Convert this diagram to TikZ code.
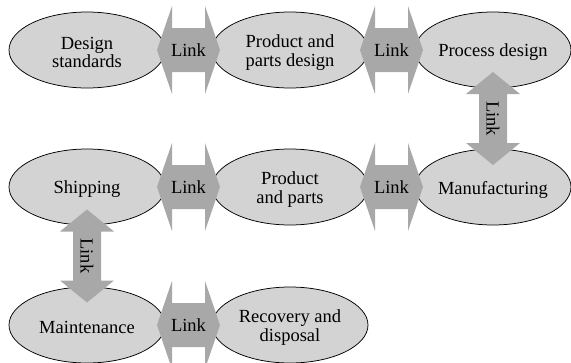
\documentclass[tikz,border=0pt]{standalone}
\usepackage{fontspec}
\setmainfont{Liberation Serif}
\usetikzlibrary{shapes.geometric,calc}
\definecolor{ellfill}{RGB}{211,211,211}
\definecolor{linkfill}{RGB}{168,168,168}
\tikzset{
  stage/.style={ellipse, draw=black, line width=0.75pt, fill=ellfill,
    minimum width=156pt, minimum height=76pt, inner sep=0pt},
  stagelabel/.style={align=center, inner sep=0pt, yshift=-2.5pt,
    font=\fontsize{18.5}{18.5}\selectfont},
  linktext/.style={font=\fontsize{18.5}{19}\selectfont, inner sep=0pt},
  linkshape/.style={fill=linkfill, draw=none},
}
\newcommand{\hlinkarrow}[3]{%
  \coordinate (#1) at ($(#2)!0.5!(#3)$);
  \path[linkshape] ($(#1)+(-31.5,0)$) -- ++(15,-44) -- ++(0,22) -- ++(33,0)
    -- ++(0,-22) -- ++(15,44) -- ++(-15,44) -- ++(0,-22) -- ++(-33,0)
    -- ++(0,22) -- cycle;
  \node[linktext] (#1t) at (#1) {Link};
}
\newcommand{\vlinkarrow}[3]{%
  \coordinate (#1) at ($(#2)!0.5!(#3)$);
  \path[linkshape] ($(#1)+(0,-46.5)$) -- ++(27,22) -- ++(-13,0) -- ++(0,49)
    -- ++(13,0) -- ++(-27,22) -- ++(-27,-22) -- ++(13,0) -- ++(0,-49)
    -- ++(-13,0) -- cycle;
  \node[linktext, rotate=-90] (#1t) at (#1) {Link};
}
\begin{document}
\begin{tikzpicture}[x=1pt, y=-1pt]
  \useasboundingbox (0,0) rectangle (571,362);
  % row 1
  \node[stage, label={[stagelabel]center:{Design\\standards}}] (ds) at (87,50) {};
  \node[stage, label={[stagelabel]center:{Product and\\parts design}}] (ppd) at (290,50) {};
  \node[stage, label={[stagelabel]center:{Process design}}] (pd) at (493,50) {};
  % row 2
  \node[stage, label={[stagelabel]center:{Shipping}}] (sh) at (87,187) {};
  \node[stage, label={[stagelabel]center:{Product\\and parts}}] (pp) at (290,187) {};
  \node[stage, label={[stagelabel]center:{Manufacturing}}] (mf) at (493,187) {};
  % row 3
  \node[stage, label={[stagelabel]center:{Maintenance}}] (mt) at (87,325) {};
  \node[stage, label={[stagelabel]center:{Recovery and\\disposal}}] (rd) at (290,325) {};
  % links
  \hlinkarrow{l1}{ds}{ppd}
  \hlinkarrow{l2}{ppd}{pd}
  \vlinkarrow{l3}{pd}{mf}
  \hlinkarrow{l4}{sh}{pp}
  \hlinkarrow{l5}{pp}{mf}
  \vlinkarrow{l6}{sh}{mt}
  \hlinkarrow{l7}{mt}{rd}
\end{tikzpicture}
\end{document}
